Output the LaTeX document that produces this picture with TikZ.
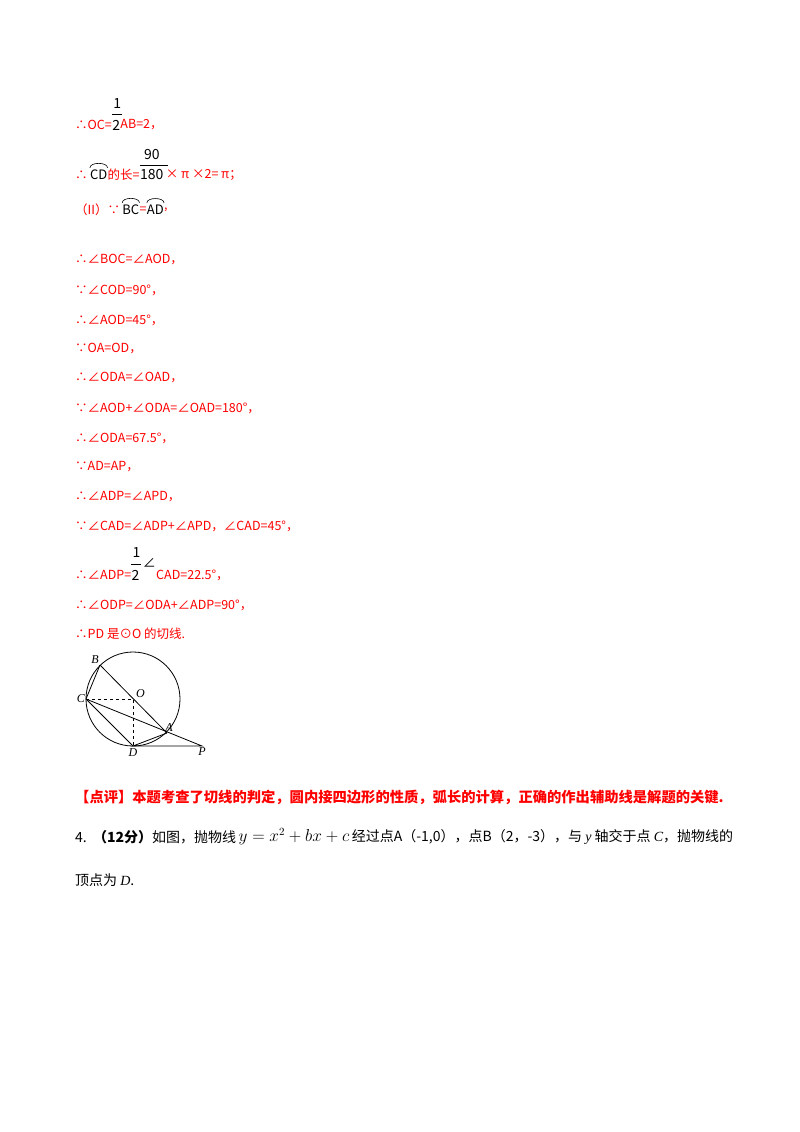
\documentclass[tikz,border=0pt]{standalone}
\usepackage{fontspec}
\setmainfont{Noto Sans CJK SC}
\newfontfamily\serifit{Liberation Serif}
\begin{document}
\begin{tikzpicture}[x=1pt,y=-1pt,
  t/.style={anchor=west,inner sep=0pt,text=red,font=\fontsize{12.5}{14}\selectfont},
  b/.style={anchor=west,inner sep=0pt,text=black,font=\fontsize{13}{15}\selectfont},
  fr/.style={inner sep=0pt,font=\fontsize{14}{16}\selectfont},
  pt/.style={font=\fontsize{12}{13}\serifit\itshape,inner sep=1pt},
  geo/.style={line width=0.8pt},
  arcmark/.style={line width=0.6pt}]
\useasboundingbox (0,0) rectangle (800,1132);
% line 1
\node[t] (a1) at (75,125) {∴OC=};
\node[fr,anchor=west] (n1) at ([xshift=1]a1.east |- 0,104) {1};
\draw ([xshift=0]a1.east |- 0,114) -- ([xshift=10]a1.east |- 0,114);
\node[fr,anchor=west] (d1) at ([xshift=0]a1.east |- 0,125) {2};
\node[t] (a1b) at (d1.east) {AB=2，};
% line 2
\node[t] (a2) at (75,175) {∴};
\node[b] (cd) at ([xshift=2]a2.east) {CD};
\draw[arcmark] ([yshift=2]cd.north west) .. controls ([yshift=8]cd.north west) and ([yshift=8]cd.north east) .. ([yshift=2]cd.north east);
\node[t] (a2b) at (cd.east) {的长=};
\node[fr,anchor=west] (n2) at ([xshift=4]a2b.east |- 0,155) {90};
\draw (a2b.east |- 0,165) -- ([xshift=28]a2b.east |- 0,165);
\node[fr,anchor=west] (d2) at (a2b.east |- 0,175) {180};
\node[t] (a2c) at ([xshift=2]d2.east) {× π ×2= π；};
% line 3
\node[t] (a3) at (75,210) {（II）∵};
\node[b] (bc) at ([xshift=2]a3.east) {BC};
\draw[arcmark] ([yshift=2]bc.north west) .. controls ([yshift=8]bc.north west) and ([yshift=8]bc.north east) .. ([yshift=2]bc.north east);
\node[t] (eq) at (bc.east) {=};
\node[b] (ad) at (eq.east) {AD};
\draw[arcmark] ([yshift=2]ad.north west) .. controls ([yshift=8]ad.north west) and ([yshift=8]ad.north east) .. ([yshift=2]ad.north east);
\node[t] (a3b) at (ad.east) {,};
% remaining lines
\node[t] (l4) at (75,260) {∴∠BOC=∠AOD，};
\node[t] (l5) at (75,290) {∵∠COD=90°，};
\node[t] (l6) at (75,320) {∴∠AOD=45°，};
\node[t] (l7) at (75,349) {∵OA=OD，};
\node[t] (l8) at (75,378) {∴∠ODA=∠OAD，};
\node[t] (l9) at (75,408) {∵∠AOD+∠ODA=∠OAD=180°，};
\node[t] (l10) at (75,438) {∴∠ODA=67.5°，};
\node[t] (l11) at (75,467) {∵AD=AP，};
\node[t] (l12) at (75,497) {∴∠ADP=∠APD，};
\node[t] (l13) at (75,526) {∵∠CAD=∠ADP+∠APD，∠CAD=45°，};
\node[t] (l14) at (75,575) {∴∠ADP=};
\node[fr,anchor=west] (n3) at ([xshift=1]l14.east |- 0,553) {1};
\draw (l14.east |- 0,564) -- ([xshift=10]l14.east |- 0,564);
\node[fr,anchor=west] (d3) at (l14.east |- 0,575) {2};
\node[b,anchor=west] (ang) at ([xshift=3]d3.east |- 0,563) {∠};
\node[t] (l14b) at (ang.east |- 0,575) {CAD=22.5°，};
\node[t] (l15) at (75,605) {∴∠ODP=∠ODA+∠ADP=90°，};
\node[t] (l16) at (75,634) {∴PD 是⊙O 的切线.};
% figure
\coordinate (O) at (133,699);
\coordinate (C) at (86,699);
\coordinate (D) at (133,746);
\coordinate (B) at (100,665);
\coordinate (A) at (167,733);
\coordinate (P) at (202,746);
\draw[geo] (O) circle (47);
\draw[geo] (B) -- (A);
\draw[geo] (B) -- (C) -- (D);
\draw[geo] (C) -- (P) -- (D) -- (A);
\draw[geo,dashed] (C) -- (O) -- (D);
\node[pt,anchor=south east] at (B) {B};
\node[pt,anchor=south west] at ([xshift=2]O) {O};
\node[pt,anchor=east] at (C) {C};
\node[pt,anchor=south] at ([xshift=2]A) {A};
\node[pt,anchor=north] at ([yshift=-1]D) {D};
\node[pt,anchor=north] at (P) {P};
% comment
\node[t,font=\fontsize{14.3}{16}\selectfont\bfseries] (cm) at (75,797) {【点评】本题考查了切线的判定，圆内接四边形的性质，弧长的计算，正确的作出辅助线是解题的关键.};
\node[b,font=\fontsize{14}{16}\selectfont] (q1) at (75,837) {4.\ \ \textbf{（12分）}如图，抛物线};
\node[b,font=\fontsize{16}{18}\selectfont] (q2) at ([xshift=2]q1.east) {$y=x^2+bx+c$};
\node[b,font=\fontsize{14}{16}\selectfont] (q3) at ([xshift=2]q2.east) {经过点A（-1,0），点B（2，-3），与 {\serifit\itshape y} 轴交于点 {\serifit\itshape C}，抛物线的};
\node[b,font=\fontsize{14}{16}\selectfont] (q4) at (75,880) {顶点为 {\serifit\itshape D}.};
\end{tikzpicture}
\end{document}
